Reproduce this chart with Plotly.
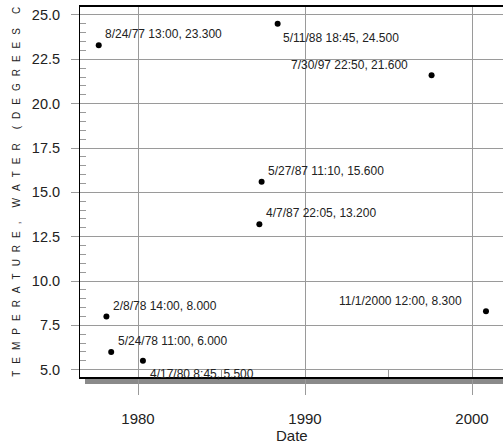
import plotly.graph_objects as go

# ---- data ----
dates = ["1977-08-24 13:00", "1988-05-11 18:45", "1997-07-30 22:50",
         "1987-05-27 11:10", "1987-04-07 22:05", "1978-02-08 14:00",
         "1978-05-24 11:00", "1980-04-17 08:45", "2000-11-01 12:00"]
temps = [23.3, 24.5, 21.6, 15.6, 13.2, 8.0, 6.0, 5.5, 8.3]
date_labels = ["8/24/77 13:00", "5/11/88 18:45", "7/30/97 22:50",
               "5/27/87 11:10", "4/7/87 22:05", "2/8/78 14:00",
               "5/24/78 11:00", "4/17/80 8:45", "11/1/2000 12:00"]
y_ticks = [5.0, 7.5, 10.0, 12.5, 15.0, 17.5, 20.0, 22.5, 25.0]
x_tick_vals = ["1980-01-01", "1990-01-01", "2000-01-01"]
x_tick_text = ["1980", "1990", "2000"]

# label placement (anchor, x offset px, y offset px)
label_pos = [("left", 4, 11), ("left", 3, -14), ("right", -22, 10),
             ("left", 4, 11), ("left", 5, 11), ("left", 5, 11),
             ("left", 5, 11), ("left", 5, -13), ("right", -22, 10)]

FONT = "Liberation Sans, Arial, sans-serif"
GRID = "#9a9a9a"
TXT = "#222"

fig = go.Figure()
fig.add_trace(go.Scatter(x=dates, y=temps, mode="markers",
                         marker=dict(color="black", size=6),
                         hoverinfo="skip", showlegend=False))

for d, t, lab, (anc, dx, dy) in zip(dates, temps, date_labels, label_pos):
    fig.add_annotation(x=d, y=t, text=f"{lab}, {t:.3f}", showarrow=False,
                       xanchor=anc, yanchor="middle", xshift=dx, yshift=dy,
                       font=dict(family=FONT, size=12, color=TXT))

sep = "\u2002\u2009"
title_words = ["TEMPERATURE,", "WATER", "(DEGREES", "C)"]
ytitle = (sep * 2).join(sep.join(list(w)) for w in title_words)
fig.add_annotation(xref="paper", yref="paper", x=-0.149, y=-0.005,
                   text=ytitle, textangle=-90, showarrow=False,
                   xanchor="center", yanchor="bottom",
                   font=dict(family=FONT, size=10, color=TXT))

fig.add_annotation(xref="paper", yref="paper", x=0.5, y=-0.157,
                   text="Date", showarrow=False, xanchor="center", yanchor="middle",
                   font=dict(family=FONT, size=15, color=TXT))

# shadow under the x axis
fig.add_shape(type="rect", xref="paper", yref="paper",
              x0=5 / 423, x1=1.0, y0=-7 / 370, y1=-1 / 370,
              fillcolor="#8a8a8a", line=dict(width=0), layer="below")

fig.update_xaxes(type="date", range=["1976-07-11", "2001-11-09"],
                 tickvals=x_tick_vals, ticktext=x_tick_text,
                 showgrid=True, gridcolor=GRID, gridwidth=1,
                 ticks="outside", ticklen=16, tickcolor=GRID, tickwidth=1,
                 ticklabelstandoff=11,
                 tickfont=dict(family=FONT, size=15, color=TXT),
                 showline=True, linecolor="black", linewidth=2, mirror=True,
                 minor=dict(tickvals=["1985-01-01", "1995-01-01"], ticks="inside",
                            ticklen=7, tickcolor=GRID, showgrid=False),
                 zeroline=False)

fig.update_yaxes(range=[4.59, 25.45], tickvals=y_ticks, tickformat=".1f",
                 showgrid=True, gridcolor=GRID, gridwidth=1,
                 ticks="outside", ticklen=8, tickcolor=GRID, tickwidth=1,
                 ticklabelstandoff=8,
                 tickfont=dict(family=FONT, size=14.5, color=TXT),
                 showline=True, linecolor="black", linewidth=1,
                 minor=dict(dtick=0.5, ticks="inside", ticklen=6,
                            tickcolor=GRID, showgrid=False),
                 zeroline=False)

fig.update_layout(width=503, height=448,
                  margin=dict(l=80, r=0, t=7, b=71),
                  plot_bgcolor="white", paper_bgcolor="white")

fig.write_html("out.html", config={"displayModeBar": False},
               post_script="document.body.style.margin='0';document.body.style.overflow='hidden';")
